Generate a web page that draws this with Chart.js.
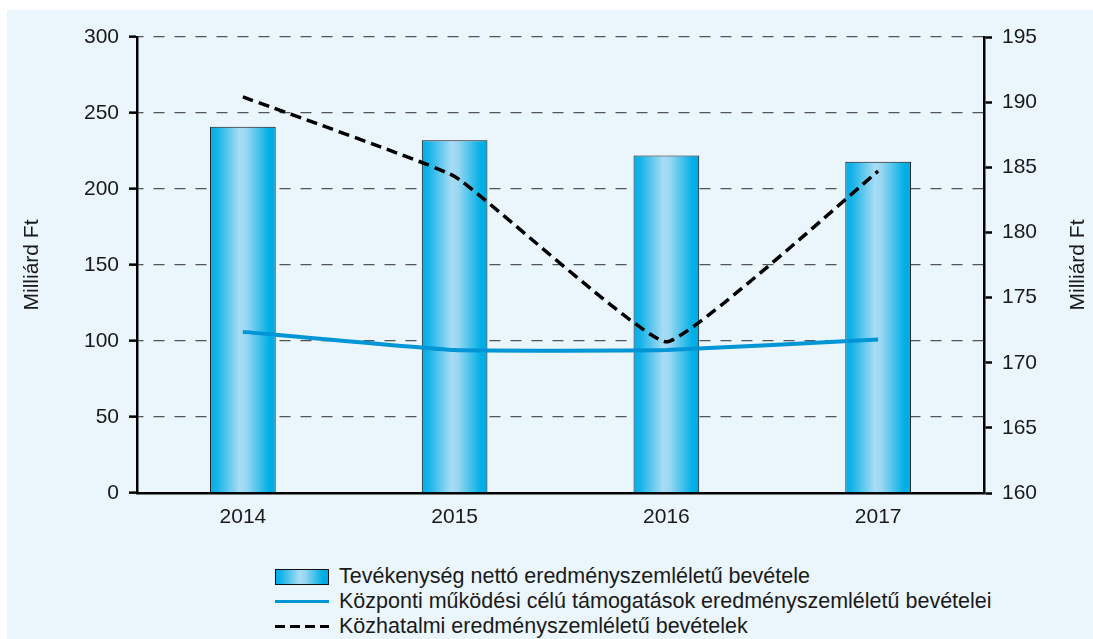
<!DOCTYPE html>
<html>
<head>
<meta charset="utf-8">
<script src="https://cdn.jsdelivr.net/npm/chart.js@4/dist/chart.umd.min.js"></script>
<style>
  html, body { margin: 0; padding: 0; background: #fff; width: 1093px; height: 639px; overflow: hidden; }
  .panel { position: absolute; left: 7px; top: 10px; right: 0; bottom: 0; background: #EBF5FC; }
  #chart { position: absolute; left: 0; top: 0; }
  .legend { position: absolute; left: 275px; top: 564px; font: 21.5px "Liberation Sans", Arial, sans-serif; color: #1a1a1a; }
  .legend div { height: 25px; display: flex; align-items: center; white-space: nowrap; }
  .legend span.sw { width: 54px; margin-right: 10px; flex: none; box-sizing: border-box; }
  .sw.bar { height: 16px; border: 1px solid #111;
    background: linear-gradient(to right, #00AEEA 0%, #14B3E8 10%, #A8DCF4 45%, #9AD7F2 55%, #00B0E6 90%, #00AAE2 100%); }
  .sw.blue { height: 3px; background: #0096D6; }
  .sw.dash { height: 3px; background: repeating-linear-gradient(to right, #000 0 10px, transparent 10px 15px); }
</style>
</head>
<body>
<div class="panel"></div>
<canvas id="chart" width="1093" height="546"></canvas>
<div class="legend">
  <div><span class="sw bar"></span>Tevékenység nettó eredményszemléletű bevétele</div>
  <div><span class="sw blue"></span>Központi működési célú támogatások eredményszemléletű bevételei</div>
  <div><span class="sw dash"></span>Közhatalmi eredményszemléletű bevételek</div>
</div>
<script>
const years = ['2014', '2015', '2016', '2017'];
const netRevenue = [241, 232, 222, 218];       // bars, left axis
const centralSupport = [106, 94, 94, 101];     // blue line, left axis
const publicRevenue = [190.4, 184.3, 171.6, 184.7]; // dashed line, right axis

const leftTicks = [0, 50, 100, 150, 200, 250, 300];
const rightTicks = [160, 165, 170, 175, 180, 185, 190, 195];
const axisTitle = 'Milliárd Ft';

const FONT = '"Liberation Sans", Arial, sans-serif';
const barPct = 0.31;

function barGradient(c) {
  const chart = c.chart;
  const area = chart.chartArea;
  if (!area || c.dataIndex === undefined) return '#00AEEA';
  const cx = chart.scales.x.getPixelForValue(c.dataIndex);
  const w = (area.right - area.left) / years.length * barPct;
  const g = chart.ctx.createLinearGradient(cx - w / 2, 0, cx + w / 2, 0);
  g.addColorStop(0, '#00AEEA');
  g.addColorStop(0.1, '#14B3E8');
  g.addColorStop(0.45, '#A8DCF4');
  g.addColorStop(0.55, '#9AD7F2');
  g.addColorStop(0.9, '#00B0E6');
  g.addColorStop(1, '#00AAE2');
  return g;
}

// both axis titles read bottom-to-top
const axisTitles = {
  id: 'axisTitles',
  afterDraw(chart) {
    const ctx = chart.ctx;
    const a = chart.chartArea;
    const my = (a.top + a.bottom) / 2;
    ctx.save();
    ctx.font = '21px ' + FONT;
    ctx.fillStyle = '#1a1a1a';
    ctx.textAlign = 'center';
    ctx.textBaseline = 'middle';
    [32, 1078].forEach(x => {
      ctx.save();
      ctx.translate(x, my);
      ctx.rotate(-Math.PI / 2);
      ctx.fillText(axisTitle, 0, 0);
      ctx.restore();
    });
    ctx.restore();
  }
};

new Chart(document.getElementById('chart'), {
  data: {
    labels: years,
    datasets: [
      {
        type: 'line',
        label: 'Központi működési célú támogatások eredményszemléletű bevételei',
        data: centralSupport,
        yAxisID: 'y',
        borderColor: '#0096D6',
        borderWidth: 4,
        pointRadius: 0,
        tension: 0.1,
        order: 1
      },
      {
        type: 'line',
        label: 'Közhatalmi eredményszemléletű bevételek',
        data: publicRevenue,
        yAxisID: 'y1',
        borderColor: '#000',
        borderWidth: 3.5,
        borderDash: [11, 6],
        pointRadius: 0,
        tension: 0.1,
        order: 2
      },
      {
        type: 'bar',
        label: 'Tevékenység nettó eredményszemléletű bevétele',
        data: netRevenue,
        yAxisID: 'y',
        backgroundColor: barGradient,
        borderColor: '#111',
        borderWidth: 1,
        barPercentage: barPct,
        categoryPercentage: 1,
        order: 3
      }
    ]
  },
  options: {
    responsive: false,
    animation: false,
    layout: { padding: { top: 37, left: 0, right: 0, bottom: 0 } },
    plugins: { legend: { display: false }, tooltip: { enabled: false } },
    scales: {
      x: {
        grid: { display: false, drawTicks: false },
        border: { display: true, color: '#000', width: 2.5 },
        ticks: { color: '#1a1a1a', font: { family: FONT, size: 21 }, padding: 12 },
        afterFit(s) { s.height = 53; }
      },
      y: {
        position: 'left',
        min: 0, max: 300,
        afterBuildTicks(s) { s.ticks = leftTicks.map(v => ({ value: v })); },
        grid: { color: '#555', lineWidth: 1.3, tickLength: 8, tickColor: '#000', tickWidth: 2.5 },
        border: { color: '#000', width: 2.5, dash: [11, 10], dashOffset: 6 },
        ticks: { color: '#1a1a1a', font: { family: FONT, size: 21 }, padding: 10 },
        afterFit(s) { s.width = 137; }
      },
      y1: {
        position: 'right',
        min: 160, max: 195,
        afterBuildTicks(s) { s.ticks = rightTicks.map(v => ({ value: v })); },
        grid: { drawOnChartArea: false, tickLength: 8, tickColor: '#000', tickWidth: 2.5 },
        border: { color: '#000', width: 2.5 },
        ticks: { color: '#1a1a1a', font: { family: FONT, size: 21 }, padding: 10 },
        afterFit(s) { s.width = 109; }
      }
    }
  },
  plugins: [axisTitles]
});
</script>
</body>
</html>
